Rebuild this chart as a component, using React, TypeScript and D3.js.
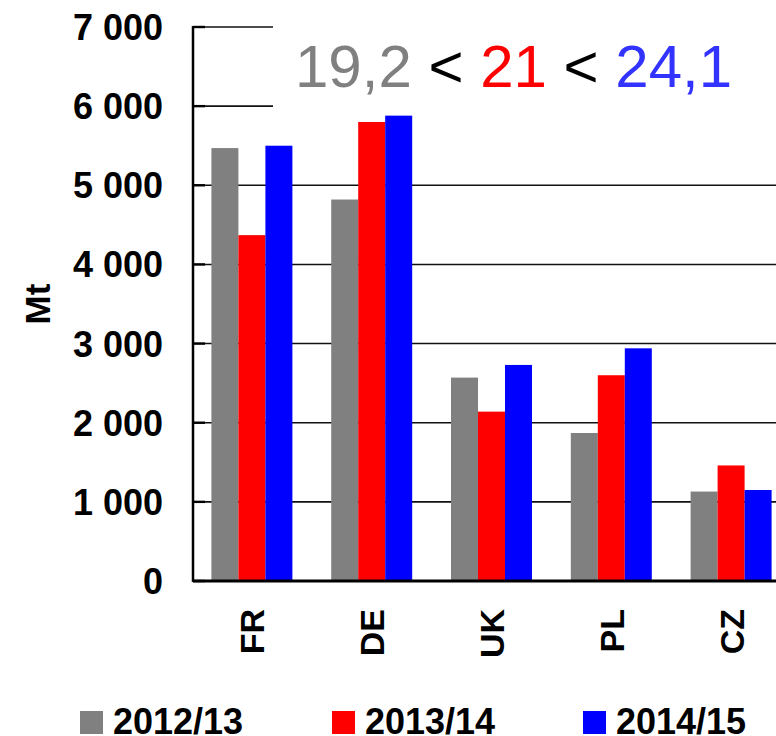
import React from "react";
import * as d3 from "d3";

const categories = ["FR", "DE", "UK", "PL", "CZ"];
const seriesNames = ["2012/13", "2013/14", "2014/15"];
const values2012 = [5470, 4820, 2570, 1870, 1130];
const values2013 = [4370, 5800, 2140, 2600, 1460];
const values2014 = [5500, 5880, 2730, 2940, 1150];
const seriesColors = ["#808080", "#ff0000", "#0000ff"];
const yTicks = [0, 1000, 2000, 3000, 4000, 5000, 6000, 7000];
const titleParts = [
  { text: "19,2", color: "#808080" },
  { text: " < ", color: "#000000" },
  { text: "21", color: "#ff0000" },
  { text: " < ", color: "#000000" },
  { text: "24,1", color: "#3333ff" },
];

const W = 776;
const H = 736;
const FONT = "'Liberation Sans', Arial, Helvetica, sans-serif";

export default function App() {
  const series = [values2012, values2013, values2014];
  const left = 193;
  const y = d3.scaleLinear().domain([0, 7000]).range([581, 27]);
  const x0 = d3
    .scaleBand<string>()
    .domain(categories)
    .range([192, 791])
    .paddingInner(0.324)
    .paddingOuter(0.162);
  const x1 = d3
    .scaleBand<number>()
    .domain([0, 1, 2])
    .range([0, x0.bandwidth()])
    .padding(0);
  const fmt = (v: number) => d3.format(",")(v).replace(/,/g, " ");

  const legendX = [80, 332, 583];

  return (
    <svg
      width={W}
      height={H}
      style={{ position: "absolute", left: 0, top: 0, background: "#fff" }}
      fontFamily={FONT}
    >
      <rect x={0} y={0} width={W} height={H} fill="#fff" />
      {/* gridlines */}
      {yTicks.map((t) => (
        <line
          key={"g" + t}
          x1={left}
          x2={W}
          y1={y(t)}
          y2={y(t)}
          stroke="#111"
          strokeWidth={1.6}
        />
      ))}
      {/* title background */}
      <rect x={273} y={12} width={W - 273} height={105} fill="#fff" />
      {/* bars */}
      {categories.map((c, i) => (
        <g key={c} transform={`translate(${x0(c)},0)`}>
          {series.map((s, k) => (
            <rect
              key={k}
              x={x1(k)}
              y={y(s[i])}
              width={x1.bandwidth()}
              height={y(0) - y(s[i])}
              fill={seriesColors[k]}
            />
          ))}
        </g>
      ))}
      {/* ticks */}
      {yTicks.map((t) => (
        <line
          key={"t" + t}
          x1={left}
          x2={left + 12}
          y1={y(t)}
          y2={y(t)}
          stroke="#000"
          strokeWidth={2.4}
        />
      ))}
      {/* axes */}
      <line x1={left} x2={left} y1={y(7000) - 1} y2={y(0) + 1} stroke="#000" strokeWidth={2.5} />
      <line x1={left} x2={W} y1={y(0)} y2={y(0)} stroke="#000" strokeWidth={3} />
      {/* y tick labels */}
      {yTicks.map((t) => (
        <text
          key={"l" + t}
          x={163}
          y={y(t)}
          dy="0.36em"
          textAnchor="end"
          fontSize={36}
          fontWeight="bold"
          fill="#000"
        >
          {fmt(t)}
        </text>
      ))}
      {/* y axis label */}
      <text
        transform={`translate(50,304) rotate(-90)`}
        textAnchor="middle"
        fontSize={35}
        fontWeight="bold"
        fill="#000"
      >
        Mt
      </text>
      {/* category labels */}
      {categories.map((c) => (
        <text
          key={"c" + c}
          transform={`translate(${(x0(c) as number) + x0.bandwidth() / 2 + 12.5},609) rotate(-90)`}
          textAnchor="end"
          fontSize={34}
          fontWeight="bold"
          fill="#000"
        >
          {c}
        </text>
      ))}
      {/* title */}
      <text x={295} y={87} fontSize={60} fill="#000">
        {titleParts.map((p, i) => (
          <tspan key={i} fill={p.color} style={{ whiteSpace: "pre" }}>
            {p.text}
          </tspan>
        ))}
      </text>
      {/* legend */}
      {seriesNames.map((n, k) => (
        <g key={n}>
          <rect x={legendX[k]} y={711} width={23} height={23} fill={seriesColors[k]} />
          <text
            x={legendX[k] + 33}
            y={734}
            fontSize={36}
            fontWeight="bold"
            fill="#000"
          >
            {n}
          </text>
        </g>
      ))}
    </svg>
  );
}
